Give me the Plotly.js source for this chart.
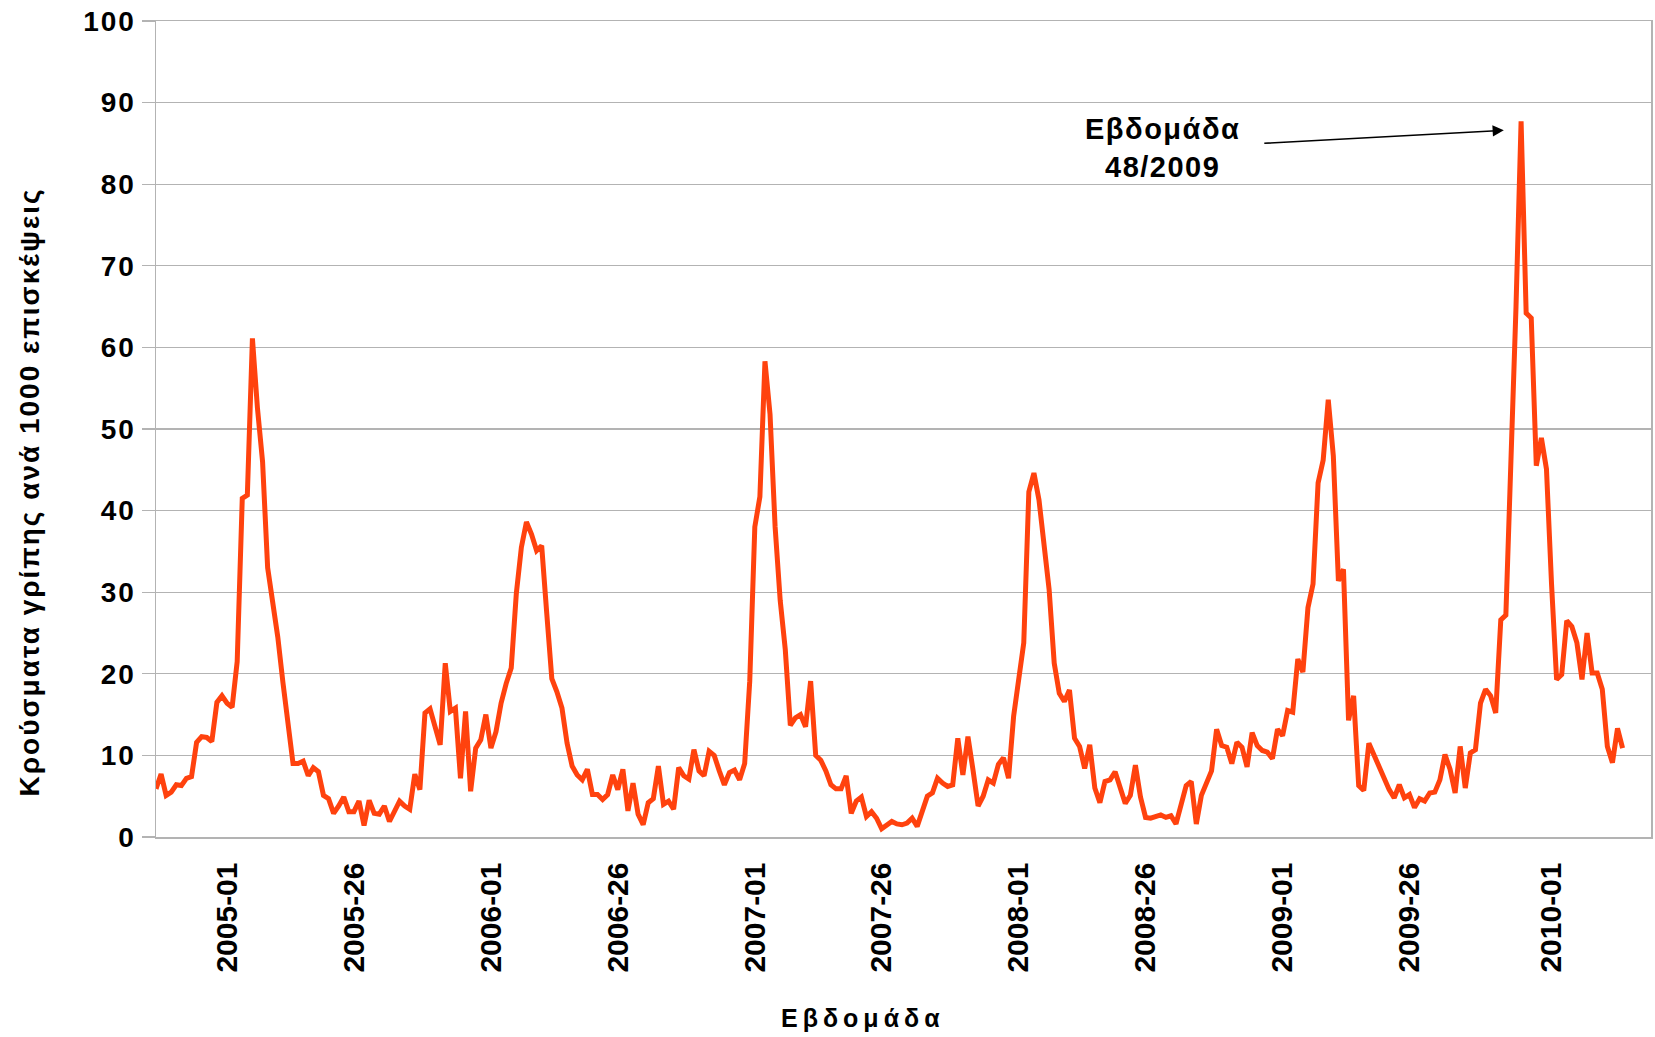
<!DOCTYPE html>
<html>
<head>
<meta charset="utf-8">
<script src="https://cdn.plot.ly/plotly-3.0.1.min.js"></script>
<style>
  html, body { margin: 0; padding: 0; background: #ffffff; }
  #chart { width: 1655px; height: 1037px; }
  .ytick text { letter-spacing: 2px; }
  g.annotation[data-index="1"] text { letter-spacing: 1.5px; }
  g.annotation[data-index="2"] text { letter-spacing: 2px; }
  g.annotation[data-index="3"] text { letter-spacing: 5px; }
</style>
</head>
<body>
<div id="chart"></div>
<script>
// ISO weeks per year, first week shown, weekly values (cases per 1000 visits)
const startYear = 2004;
const startWeek = 40;
const weeksInYear = { 2004: 53, 2005: 52, 2006: 52, 2007: 52, 2008: 52, 2009: 53, 2010: 52 };

const values = [
  5.9, 7.7, 5.1, 5.5, 6.4, 6.3, 7.2, 7.4, 11.6, 12.3,
  12.2, 11.7, 16.5, 17.3, 16.4, 15.9, 21.5, 41.5, 41.9, 61.1,
  52.5, 46.0, 33.0, 29.0, 24.5, 19.0, 13.5, 9.0, 9.0, 9.3,
  7.5, 8.5, 8.0, 5.1, 4.7, 2.9, 3.8, 4.9, 3.1, 3.1,
  4.4, 1.4, 4.5, 2.9, 2.8, 3.8, 1.9, 3.1, 4.4, 3.8,
  3.4, 7.7, 5.8, 15.2, 15.7, 13.5, 11.3, 21.3, 15.4, 15.8,
  7.2, 15.4, 5.6, 10.9, 11.9, 15.0, 10.9, 12.9, 16.4, 18.8,
  20.7, 29.8, 35.5, 38.6, 37.1, 35.1, 35.7, 27.4, 19.4, 17.8,
  15.8, 11.5, 8.7, 7.6, 7.0, 8.3, 5.2, 5.2, 4.6, 5.2,
  7.6, 5.8, 8.3, 3.2, 6.6, 2.8, 1.5, 4.2, 4.7, 8.7,
  4.0, 4.4, 3.4, 8.5, 7.5, 7.1, 10.7, 8.1, 7.5, 10.5,
  10.0, 8.1, 6.4, 7.9, 8.2, 7.0, 9.0, 19.1, 38.0, 41.7,
  58.3, 51.8, 38.0, 29.0, 23.0, 13.7, 14.6, 15.0, 13.5, 19.1,
  10.0, 9.4, 8.1, 6.4, 5.9, 5.9, 7.5, 2.9, 4.4, 4.9,
  2.5, 3.1, 2.3, 1.0, 1.5, 1.9, 1.6, 1.5, 1.7, 2.3,
  1.3, 3.2, 5.0, 5.4, 7.2, 6.6, 6.2, 6.4, 12.1, 7.6,
  12.3, 8.2, 3.8, 5.0, 7.0, 6.6, 8.9, 9.7, 7.2, 14.8,
  19.7, 23.8, 42.3, 44.6, 41.3, 36.4, 30.3, 21.3, 17.6, 16.6,
  18.0, 12.1, 11.1, 8.4, 11.3, 6.0, 4.2, 6.8, 7.0, 8.0,
  6.2, 4.1, 5.1, 8.8, 4.9, 2.4, 2.3, 2.5, 2.7, 2.4,
  2.6, 1.6, 3.9, 6.3, 6.8, 1.6, 5.1, 6.5, 8.1, 13.2,
  11.2, 11.0, 9.0, 11.6, 11.0, 8.6, 12.8, 11.2, 10.6, 10.4,
  9.6, 13.2, 12.4, 15.5, 15.3, 21.8, 20.2, 28.1, 31.0, 43.4,
  46.2, 53.6, 46.7, 31.4, 32.8, 14.3, 17.3, 6.3, 5.7, 11.5,
  10.0, 8.5, 7.0, 5.8, 4.8, 6.4, 4.8, 5.2, 3.6, 4.7,
  4.4, 5.4, 5.5, 7.0, 10.1, 8.3, 5.4, 11.1, 6.0, 10.3,
  10.7, 16.4, 18.1, 17.3, 15.2, 26.6, 27.2, 45.0, 65.0, 87.7,
  64.2, 63.6, 45.5, 48.9, 45.1, 31.0, 19.3, 19.9, 26.5, 25.8,
  23.8, 19.3, 25.0, 20.1, 20.1, 18.1, 11.1, 9.1, 13.3, 10.9
];

const tickLabels = ['2005-01', '2005-26', '2006-01', '2006-26', '2007-01', '2007-26',
                    '2008-01', '2008-26', '2009-01', '2009-26', '2010-01'];

const yTitle = 'Κρούσματα γρίπης ανά 1000 επισκέψεις';
const xTitle = 'Εβδομάδα';
const peakNote = 'Εβδομάδα<br>48/2009';

// build week categories (year-week)
const weeks = [];
let y = startYear, w = startWeek;
for (let i = 0; i < values.length; i++) {
  weeks.push(y + '-' + String(w).padStart(2, '0'));
  w++;
  if (w > weeksInYear[y]) { w = 1; y++; }
}

const FONT = 'Liberation Sans, Arial, sans-serif';
const GRID = '#b3b3b3';

const trace = {
  type: 'scatter',
  mode: 'lines',
  x: weeks,
  y: values,
  line: { color: '#ff420e', width: 5 },
  hoverinfo: 'x+y'
};

const layout = {
  width: 1655,
  height: 1037,
  margin: { l: 156, r: 4, t: 21, b: 200 },
  paper_bgcolor: '#ffffff',
  plot_bgcolor: '#ffffff',
  showlegend: false,
  xaxis: {
    type: 'category',
    categoryorder: 'array',
    categoryarray: weeks,
    range: [0, 294.6],
    tickmode: 'array',
    tickvals: tickLabels,
    ticktext: tickLabels,
    tickangle: -90,
    ticks: '',
    ticklabelstandoff: 12,
    tickfont: { family: FONT, size: 30, color: '#000000', weight: 'bold' },
    showgrid: false,
    showline: true,
    linecolor: GRID,
    linewidth: 1.5,
    mirror: true,
    zeroline: false
  },
  yaxis: {
    range: [0, 100],
    dtick: 10,
    tick0: 0,
    ticks: 'outside',
    ticklen: 13,
    tickcolor: GRID,
    tickwidth: 1.2,
    tickfont: { family: FONT, size: 28, color: '#000000', weight: 'bold' },
    showgrid: true,
    gridcolor: GRID,
    gridwidth: 1.2,
    showline: true,
    linecolor: GRID,
    linewidth: 1.5,
    mirror: true,
    zeroline: false
  },
  annotations: [
    {
      x: 265.6, y: 86.6, xref: 'x', yref: 'y',
      ax: 218.1, ay: 85.0, axref: 'x', ayref: 'y',
      text: '',
      showarrow: true,
      arrowhead: 2, arrowsize: 1.4, arrowwidth: 1.6, arrowcolor: '#000000'
    },
    {
      x: 198.4, y: 84.4, xref: 'x', yref: 'y',
      xanchor: 'center', yanchor: 'middle',
      text: peakNote, showarrow: false, align: 'center',
      font: { family: FONT, size: 29, color: '#000000', weight: 'bold' }
    },
    {
      xref: 'paper', yref: 'paper', x: -0.0846, y: 0.4228,
      xanchor: 'center', yanchor: 'middle',
      text: yTitle, textangle: -90, showarrow: false,
      font: { family: FONT, size: 28, color: '#000000', weight: 'bold' }
    },
    {
      xref: 'paper', yref: 'paper', x: 0.4729, y: -0.2218,
      xanchor: 'center', yanchor: 'middle',
      text: xTitle, showarrow: false,
      font: { family: FONT, size: 25, color: '#000000', weight: 'bold' }
    }
  ]
};

Plotly.newPlot('chart', [trace], layout, { displayModeBar: false, staticPlot: true });
</script>
</body>
</html>
